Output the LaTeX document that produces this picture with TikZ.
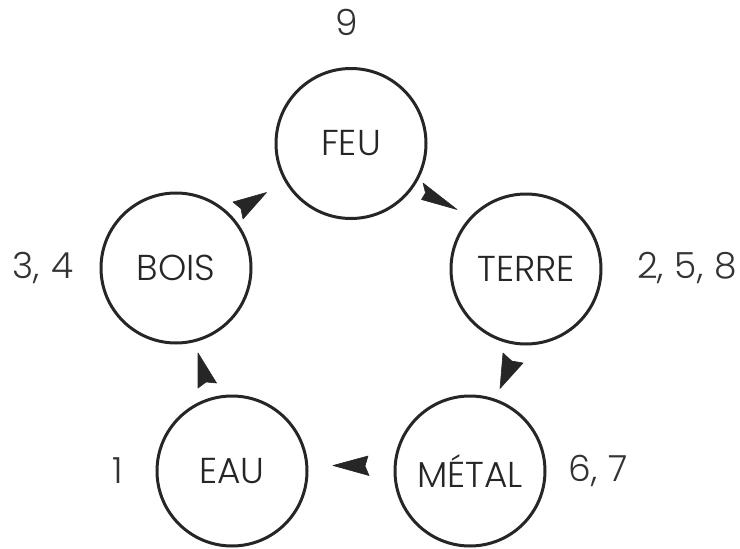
\documentclass[tikz,border=0pt]{standalone}
\usepackage{fontspec}
\setmainfont{Poppins Light}
\usetikzlibrary{calc}
\tikzset{
  element/.style={circle, draw=black!85, line width=3pt, minimum size=150pt, inner sep=0pt, font=\fontsize{36}{40}\selectfont, text=black!85},
  numlabel/.style={font=\fontsize{36}{40}\selectfont, inner sep=0pt, text=black!80},
  tipshape/.style={fill=black!85, draw=black!85, line width=0.6pt, line join=round}
}
\begin{document}
\begin{tikzpicture}[x=1pt, y=-1pt]
\useasboundingbox (0,0) rectangle (740,549);
\node[element] (feu) at (351,143.5) {FEU};
\node[element] (bois) at (176,268) {BOIS};
\node[element] (terre) at (526,269) {TERRE};
\node[element] (eau) at (232,471) {EAU};
\node[element] (metal) at (470,471) {MÉTAL};
\node[numlabel] (l9) at (347,22) {9};
\node[numlabel] (l34) at (43,268) {3,\hspace{0.3em}4};
\node[numlabel] (l258) at (687,268) {2,\hspace{0.3em}5,\hspace{0.3em}8};
\node[numlabel] (l1) at (118,471) {1};
\node[numlabel] (l67) at (598,471) {6,\hspace{0.3em}7};
% arrowheads (bois -> feu, feu -> terre, terre -> metal, metal -> eau, eau -> bois)
\coordinate (a1t) at (266.5,192.5);
\fill[tipshape] (a1t) -- (233,202) -- (241,208.7) -- (243,219) -- cycle;
\coordinate (a2t) at (457,209.5);
\fill[tipshape] (a2t) -- (423,183) -- (425.5,193) -- (421.5,199.5) -- cycle;
\coordinate (a3t) at (500,388.5);
\fill[tipshape] (a3t) -- (503,353) -- (511.7,361) -- (523,363) -- cycle;
\coordinate (a4t) at (333,465.5);
\fill[tipshape] (a4t) -- (368,456) -- (365,466) -- (369,475.5) -- cycle;
\coordinate (a5t) at (198,353);
\fill[tipshape] (a5t) -- (198,388) -- (206,382) -- (216.5,383) -- cycle;
\end{tikzpicture}
\end{document}
